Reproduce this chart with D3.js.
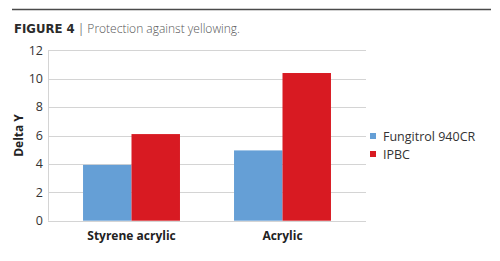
<!DOCTYPE html>
<html><head><meta charset="utf-8">
<script src="https://cdn.jsdelivr.net/npm/d3@7"></script>
<style>body{margin:0;background:#fff;} svg{display:block;}</style>
</head><body>
<script>
const categories = ["Styrene acrylic", "Acrylic"];
const seriesNames = ["Fungitrol 940CR", "IPBC"];
const fungitrol = [3.93, 4.95];
const ipbc = [6.1, 10.4];
const yTicks = [0, 2, 4, 6, 8, 10, 12];
const colors = ["#659fd6", "#d81a22"];

const W = 500, H = 261;
const svg = d3.select("body").append("svg").attr("width", W).attr("height", H);
const font = "'Open Sans', sans-serif";

// header rule and title
svg.append("line").attr("x1", 12).attr("x2", 491).attr("y1", 9.5).attr("y2", 9.5)
  .attr("stroke", "#4a4a4a").attr("stroke-width", 1.5);
const title = svg.append("text").attr("x", 14).attr("y", 33).attr("font-family", font).attr("font-size", 12);
title.append("tspan").attr("font-family", "'Liberation Sans Narrow', 'DejaVu Sans Condensed', sans-serif")
  .attr("font-weight", "bold").attr("fill", "#2b2b2b").attr("font-size", 13).text("FIGURE 4");
title.append("tspan").attr("fill", "#777").attr("dx", 3).text("| ");
title.append("tspan").attr("fill", "#555").attr("font-weight", 300).text("Protection against yellowing.");

const x0 = 48, x1 = 366;
const y = d3.scaleLinear().domain([0, 12]).range([220.7, 50.3]);
const x = d3.scaleBand().domain(categories).range([x0, x1]).paddingInner(0.358).paddingOuter(0.232);
const xs = d3.scaleBand().domain(seriesNames).range([0, x.bandwidth()]);

// gridlines
svg.append("g").selectAll("line").data(yTicks).join("line")
  .attr("x1", x0).attr("x2", x1).attr("y1", d => Math.round(y(d)) + 0.5).attr("y2", d => Math.round(y(d)) + 0.5)
  .attr("stroke", "#d4d4d4").attr("stroke-width", 1);
svg.append("line").attr("x1", x0 + 0.5).attr("x2", x0 + 0.5).attr("y1", y(12)).attr("y2", y(0))
  .attr("stroke", "#d4d4d4");

// y axis labels
svg.append("g").selectAll("text").data(yTicks).join("text")
  .attr("x", 43).attr("y", d => y(d)).attr("dy", "0.35em").attr("text-anchor", "end")
  .attr("font-family", font).attr("font-size", 12.5).attr("fill", "#333").text(d => d);

svg.append("text").attr("transform", `translate(23,${(y(0) + y(12)) / 2}) rotate(-90)`)
  .attr("text-anchor", "middle").attr("font-family", font).attr("font-weight", "bold")
  .attr("font-size", 12).attr("fill", "#222").text("Delta Y");

// bars
const data = categories.map((c, i) => ({ cat: c, vals: [fungitrol[i], ipbc[i]] }));
const g = svg.append("g");
data.forEach(d => {
  d.vals.forEach((v, j) => {
    g.append("rect").attr("x", x(d.cat) + xs(seriesNames[j])).attr("width", xs.bandwidth())
      .attr("y", y(v)).attr("height", y(0) - y(v)).attr("fill", colors[j]);
  });
});

// x labels
svg.append("g").selectAll("text").data(categories).join("text")
  .attr("x", d => x(d) + x.bandwidth() / 2).attr("y", 240).attr("text-anchor", "middle")
  .attr("font-family", font).attr("font-weight", "bold").attr("font-size", 12).attr("fill", "#222").text(d => d);

// legend
const lg = svg.append("g");
seriesNames.forEach((s, i) => {
  lg.append("rect").attr("x", 370).attr("y", 133 + i * 18).attr("width", 6).attr("height", 6).attr("fill", colors[i]);
  lg.append("text").attr("x", 383).attr("y", 141 + i * 18).attr("font-family", font).attr("font-size", 12.5)
    .attr("fill", "#333").text(s);
});
</script>
</body></html>
